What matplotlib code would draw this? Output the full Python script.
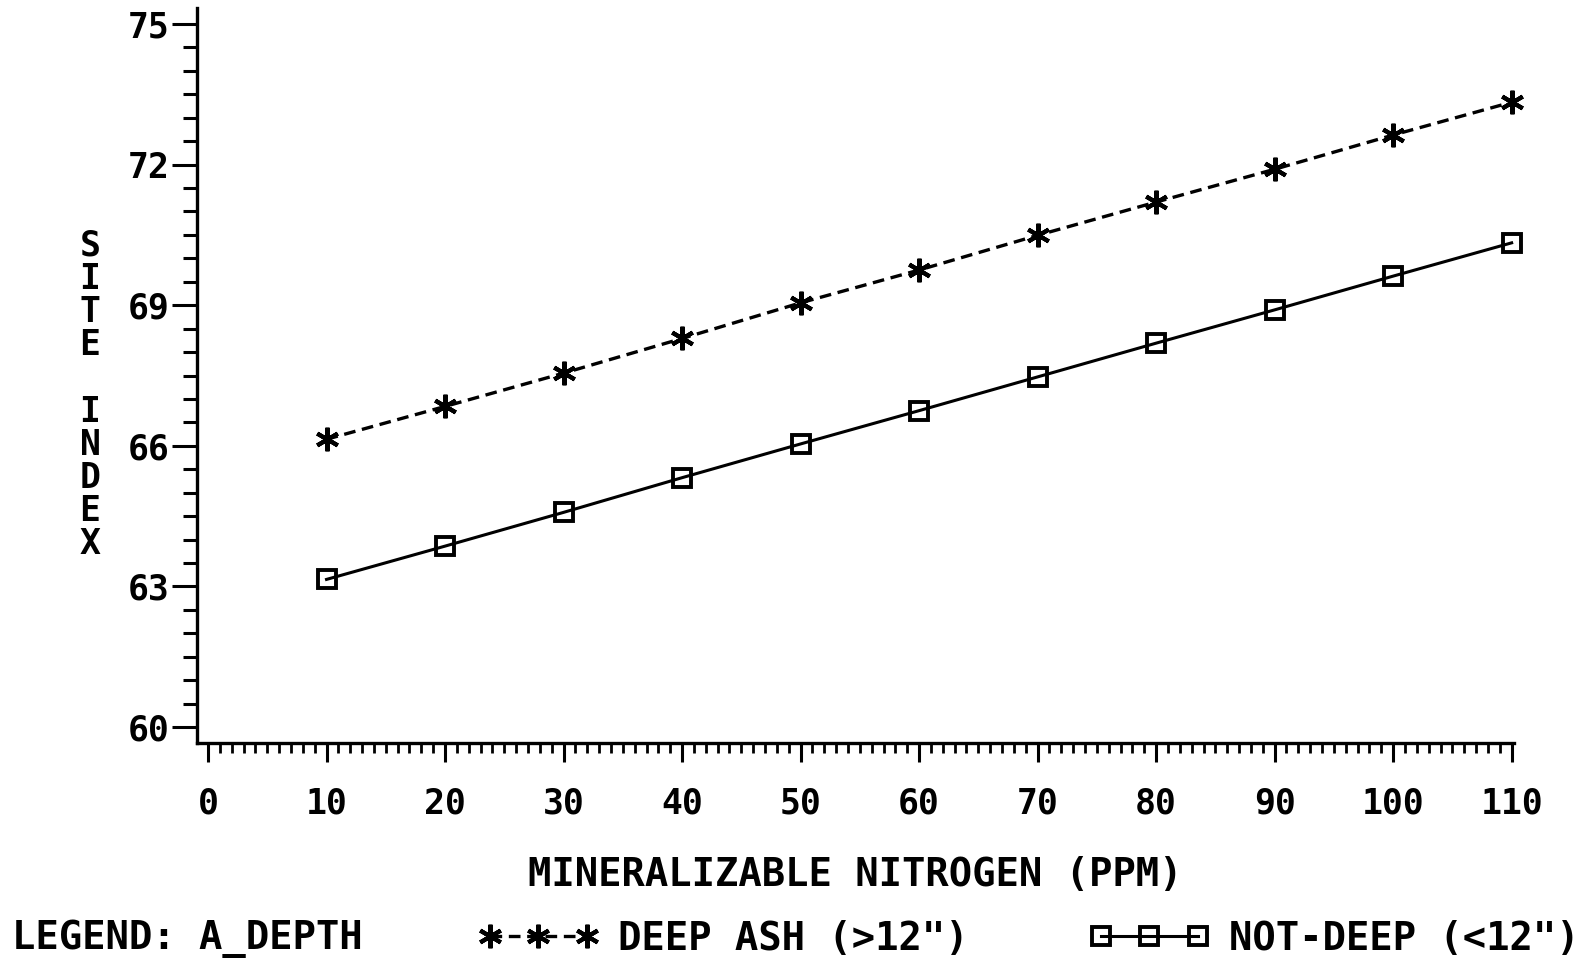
import matplotlib
matplotlib.use("Agg")
import matplotlib.pyplot as plt
from matplotlib.ticker import MultipleLocator

nitrogen = [10, 20, 30, 40, 50, 60, 70, 80, 90, 100, 110]
deep_ash = [66.14, 66.84, 67.55, 68.29, 69.05, 69.75, 70.49, 71.20, 71.90, 72.63, 73.33]
not_deep = [63.15, 63.86, 64.58, 65.32, 66.04, 66.75, 67.47, 68.19, 68.90, 69.62, 70.33]
x_ticks = [0, 10, 20, 30, 40, 50, 60, 70, 80, 90, 100, 110]
y_ticks = [60, 63, 66, 69, 72, 75]

FONT = "DejaVu Sans Mono"
plt.rcParams['font.family'] = [FONT, 'DejaVu Sans']
plt.rcParams['font.weight'] = 'bold'

W, H = 1596, 959
fig = plt.figure(figsize=(W/100, H/100), dpi=100)
ax = fig.add_axes([197/W, 1-743/H, (1514-197)/W, (743-8)/H])

ast = (6, 2, 0)
ax.plot(nitrogen, deep_ash, color='black', lw=2.4, linestyle=(0, (3.5, 2)),
        marker=ast, markersize=17, markeredgewidth=3.0, label='DEEP ASH (>12")',
        clip_on=False)
ax.plot(nitrogen, not_deep, color='black', lw=2.2, linestyle='-',
        marker='s', markersize=13, markeredgewidth=2.8, markerfacecolor='none',
        label='NOT-DEEP (<12")', clip_on=False)

ax.set_xlim(-0.93, 110.2)
ax.set_ylim(59.66, 75.34)
ax.set_xticks(x_ticks)
ax.set_yticks(y_ticks)
ax.xaxis.set_minor_locator(MultipleLocator(1))
ax.yaxis.set_minor_locator(MultipleLocator(0.5))

for s in ['top', 'right']:
    ax.spines[s].set_visible(False)
for s in ['left', 'bottom']:
    ax.spines[s].set_linewidth(2.4)

ax.tick_params(axis='y', which='major', direction='out', length=18, width=2.2,
               labelsize=25, pad=2)
ax.tick_params(axis='y', which='minor', direction='out', length=10, width=2.2)
ax.tick_params(axis='x', which='major', direction='out', length=14, width=2.2,
               labelsize=25, pad=17)
ax.tick_params(axis='x', which='minor', direction='out', length=7, width=2.0)
for lab in ax.get_xticklabels() + ax.get_yticklabels():
    lab.set_fontweight('bold')

ax.set_xlabel('MINERALIZABLE NITROGEN (PPM)', fontsize=28, fontweight='bold', labelpad=26)

fig.text(90/W, 1-395/H, "S\nI\nT\nE\n\nI\nN\nD\nE\nX", ha='center', va='center',
         fontsize=25, fontweight='bold', linespacing=0.97, multialignment='center')

fig.text(12/W, 1-939/H, 'LEGEND: A_DEPTH', ha='left', va='center',
         fontsize=28, fontweight='bold')

handles, labels = ax.get_legend_handles_labels()
leg = fig.legend(handles, labels, loc='center left', bbox_to_anchor=(478/W, 1-939/H),
                 ncol=2, frameon=False, numpoints=3, handlelength=3.1,
                 handletextpad=0.5, columnspacing=3.1, borderpad=0, borderaxespad=0,
                 prop={'family': FONT, 'weight': 'bold', 'size': 28})

fig.savefig('out.png', dpi=100)
